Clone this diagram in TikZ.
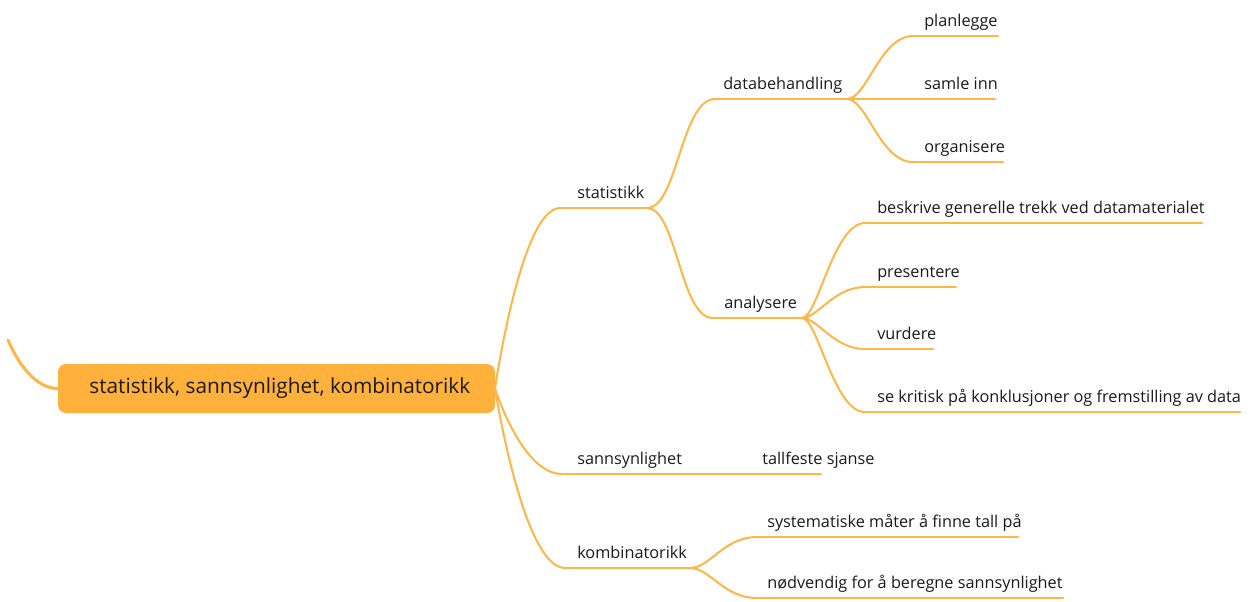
\documentclass[tikz,border=0pt]{standalone}
\usepackage{fontspec}
\setmainfont{Open Sans}
\usetikzlibrary{calc}

\definecolor{branch}{HTML}{FFB647}
\definecolor{rootfill}{HTML}{FFB13B}
\definecolor{ink}{HTML}{1A1A1A}

\tikzset{
  branch line/.style={draw=branch, line width=1.5pt, line cap=round},
  label text/.style={inner sep=0pt, text=ink, font=\fontsize{12.2pt}{14pt}\selectfont},
  rootbox/.style={fill=rootfill, rounded corners=6pt, inner sep=0pt,
    minimum width=327.75pt, minimum height=36.75pt, text=ink,
    font=\fontsize{15.6pt}{18pt}\selectfont},
}

% \topic{name}{text x}{line start x}{line end x}{line y}{label}
\newcommand{\topic}[6]{%
  \node[label text, anchor=base west] (#1) at (#2,#5-10) {#6};
  \coordinate (#1-l) at (#3,#5);
  \coordinate (#1-r) at (#4,#5);
  \draw[branch line] (#1-l) -- (#1-r);
}
% \branchlink{from}{to}{start fraction}{end fraction}
\newcommand{\branchlink}[4]{%
  \draw[branch line] let \p1=(#1), \p2=(#2) in
    (\p1) .. controls ({\x1+#3*(\x2-\x1)},\y1) and ({\x2-#4*(\x2-\x1)},\y2) .. (\p2);
}

\begin{document}
\begin{tikzpicture}[x=0.75pt, y=-0.75pt]
  \useasboundingbox (0,0) rectangle (1253,601);

  % central topic
  \node[rootbox] (root) at (276.5,388.5) {\hspace*{5pt}statistikk, sannsynlighet, kombinatorikk};
  \coordinate (root-r) at (495,388.5);
  \coordinate (up) at (8,340);
  \draw[branch line, line width=2.25pt] (root.west) .. controls (38,388.5) and (20,368) .. (up);

  % main branches
  \topic{stat}{577}{560}{647}{208}{statistikk}
  \topic{sann}{577}{562}{680}{474}{sannsynlighet}
  \topic{komb}{577}{565}{690}{568}{kombinatorikk}

  % statistikk
  \topic{datab}{723}{715}{847}{99}{databehandling}
  \topic{anal}{724}{713}{802}{318}{analysere}

  \topic{plan}{924}{913}{998}{36}{planlegge}
  \topic{samle}{924}{913}{995}{99}{samle inn}
  \topic{org}{924}{913}{1003}{162}{organisere}

  \topic{beskr}{877}{865}{1202}{223}{beskrive generelle trekk ved datamaterialet}
  \topic{pres}{877}{865}{956}{287}{presentere}
  \topic{vurd}{877}{865}{933}{349}{vurdere}
  \topic{krit}{877}{865}{1240}{412}{se kritisk på konklusjoner og fremstilling av data}

  % sannsynlighet
  \topic{tall}{762}{753}{821}{474}{tallfeste sjanse}

  % kombinatorikk
  \topic{syst}{767}{757}{1018}{537}{systematiske måter å finne tall på}
  \topic{nodv}{767}{757}{1063}{598}{nødvendig for å beregne sannsynlighet}

  % connectors
  \branchlink{root-r}{stat-l}{0}{0.6}
  \branchlink{root-r}{sann-l}{0}{0.6}
  \branchlink{root-r}{komb-l}{0}{0.6}

  \branchlink{stat-r}{datab-l}{0.45}{0.5}
  \branchlink{stat-r}{anal-l}{0.45}{0.5}

  \branchlink{datab-r}{plan-l}{0.3}{0.5}
  \branchlink{datab-r}{samle-l}{0.3}{0.5}
  \branchlink{datab-r}{org-l}{0.3}{0.5}

  \branchlink{anal-r}{beskr-l}{0.25}{0.5}
  \branchlink{anal-r}{pres-l}{0.25}{0.5}
  \branchlink{anal-r}{vurd-l}{0.25}{0.5}
  \branchlink{anal-r}{krit-l}{0.25}{0.5}

  \branchlink{sann-r}{tall-l}{0.3}{0.5}

  \branchlink{komb-r}{syst-l}{0.3}{0.5}
  \branchlink{komb-r}{nodv-l}{0.3}{0.5}
\end{tikzpicture}
\end{document}
